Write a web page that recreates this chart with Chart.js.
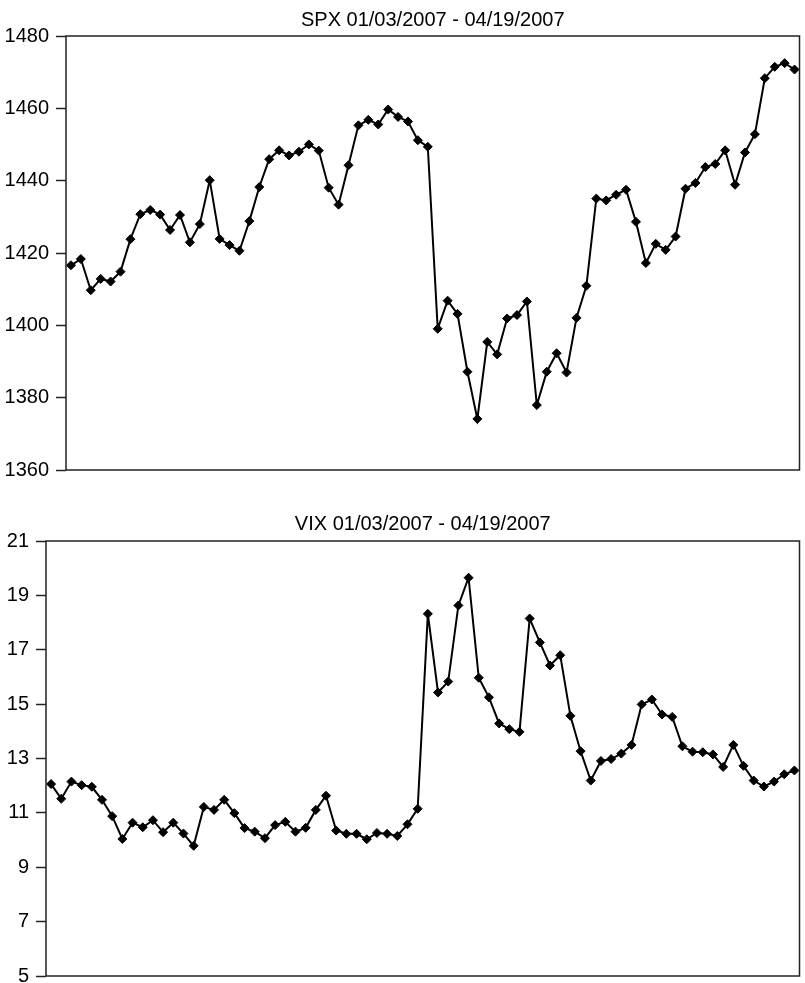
<!DOCTYPE html>
<html>
<head>
<meta charset="utf-8">
<title>SPX and VIX, 01/03/2007 - 04/19/2007</title>
<script src="https://cdn.jsdelivr.net/npm/chart.js@4/dist/chart.umd.min.js"></script>
<style>
  html, body { margin: 0; padding: 0; background: #fff; overflow: hidden; }
  body { width: 805px; height: 983px; position: relative; }
  .panel { position: absolute; left: 0; width: 805px; }
  #spxBox { top: 0; height: 490px; }
  #vixBox { top: 490px; height: 510px; }
</style>
</head>
<body>
<div class="panel" id="spxBox"><canvas id="spx"></canvas></div>
<div class="panel" id="vixBox"><canvas id="vix"></canvas></div>
<script>
// Trading days, 2007
const tradingDays = [
  '01/03','01/04','01/05','01/08','01/09','01/10','01/11','01/12','01/16','01/17',
  '01/18','01/19','01/22','01/23','01/24','01/25','01/26','01/29','01/30','01/31',
  '02/01','02/02','02/05','02/06','02/07','02/08','02/09','02/12','02/13','02/14',
  '02/15','02/16','02/20','02/21','02/22','02/23','02/26','02/27','02/28',
  '03/01','03/02','03/05','03/06','03/07','03/08','03/09','03/12','03/13','03/14',
  '03/15','03/16','03/19','03/20','03/21','03/22','03/23','03/26','03/27','03/28',
  '03/29','03/30',
  '04/02','04/03','04/04','04/05','04/09','04/10','04/11','04/12','04/13','04/16',
  '04/17','04/18','04/19'
];

// S&P 500 daily close
const spxClose = [
  1416.60, 1418.34, 1409.71, 1412.84, 1412.11, 1414.85, 1423.82, 1430.73, 1431.90, 1430.62,
  1426.37, 1430.50, 1422.95, 1427.99, 1440.13, 1423.90, 1422.18, 1420.62, 1428.82, 1438.24,
  1445.94, 1448.39, 1446.99, 1448.00, 1450.02, 1448.31, 1438.06, 1433.37, 1444.26, 1455.30,
  1456.81, 1455.54, 1459.68, 1457.63, 1456.38, 1451.19, 1449.37, 1399.04, 1406.82,
  1403.17, 1387.17, 1374.12, 1395.41, 1391.97, 1401.89, 1402.84, 1406.60, 1377.95, 1387.17,
  1392.28, 1386.95, 1402.06, 1410.94, 1435.04, 1434.54, 1436.11, 1437.50, 1428.61, 1417.23,
  1422.53, 1420.86,
  1424.55, 1437.77, 1439.37, 1443.76, 1444.61, 1448.39, 1438.87, 1447.80, 1452.85, 1468.33,
  1471.48, 1472.50, 1470.73
];

// CBOE VIX daily close
const vixClose = [
  12.06, 11.52, 12.15, 12.02, 11.96, 11.48, 10.88, 10.04, 10.64, 10.47,
  10.73, 10.29, 10.64, 10.24,  9.79, 11.22, 11.11, 11.48, 10.99, 10.44,
  10.31, 10.07, 10.55, 10.67, 10.31, 10.45, 11.11, 11.63, 10.35, 10.23,
  10.23, 10.03, 10.26, 10.23, 10.15, 10.58, 11.15, 18.32, 15.43,
  15.83, 18.63, 19.65, 15.97, 15.25, 14.29, 14.08, 13.98, 18.15, 17.27,
  16.42, 16.80, 14.57, 13.27, 12.19, 12.91, 12.98, 13.18, 13.50, 14.99,
  15.17, 14.62,
  14.53, 13.45, 13.25, 13.23, 13.15, 12.69, 13.50, 12.73, 12.19, 11.97,
  12.15, 12.42, 12.56
];

const spxTicks = [1360, 1380, 1400, 1420, 1440, 1460, 1480];
const vixTicks = [5, 7, 9, 11, 13, 15, 17, 19, 21];

const FONT = '"Liberation Sans", Arial, Helvetica, sans-serif';

// Box drawn around the plotting area
const frame = {
  id: 'frame',
  afterDatasetsDraw(chart) {
    const a = chart.chartArea;
    const ctx = chart.ctx;
    ctx.save();
    ctx.strokeStyle = '#222';
    ctx.lineWidth = 1.5;
    ctx.strokeRect(a.left, a.top, a.right - a.left, a.bottom - a.top);
    ctx.restore();
  }
};

function makeChart(id, title, values, ticks, axisWidth, titlePad, bottomPad) {
  return new Chart(document.getElementById(id), {
    type: 'line',
    data: {
      labels: tradingDays,
      datasets: [{
        data: values,
        borderColor: '#000',
        borderWidth: 2,
        backgroundColor: '#000',
        pointStyle: 'rectRot',
        pointRadius: 4.5,
        pointBorderWidth: 1,
        pointBackgroundColor: '#000',
        pointBorderColor: '#000',
        tension: 0,
        fill: false
      }]
    },
    options: {
      responsive: true,
      maintainAspectRatio: false,
      animation: false,
      events: [],
      layout: { padding: { left: 0, right: 2, top: 0, bottom: bottomPad } },
      plugins: {
        legend: { display: false },
        tooltip: { enabled: false },
        title: {
          display: true,
          text: title,
          fullSize: false,
          color: '#000',
          font: { family: FONT, size: 20, weight: 'normal' },
          padding: titlePad
        }
      },
      scales: {
        x: {
          type: 'category',
          offset: true,
          display: false
        },
        y: {
          min: ticks[0],
          max: ticks[ticks.length - 1],
          afterBuildTicks(scale) {
            scale.ticks = ticks.map(v => ({ value: v }));
          },
          afterFit(scale) { scale.width = axisWidth; },
          grid: {
            drawOnChartArea: false,
            drawTicks: true,
            tickLength: 10,
            tickColor: '#222',
            tickWidth: 1.5
          },
          border: { display: false },
          ticks: {
            color: '#000',
            padding: 7,
            font: { family: FONT, size: 20 },
            callback: v => String(v)
          }
        }
      }
    },
    plugins: [frame]
  });
}

makeChart('spx', 'SPX 01/03/2007 - 04/19/2007', spxClose, spxTicks, 66, { top: 8, bottom: 4 }, 20);
makeChart('vix', 'VIX 01/03/2007 - 04/19/2007', vixClose, vixTicks, 46, { top: 22, bottom: 5 }, 24);
</script>
</body>
</html>
